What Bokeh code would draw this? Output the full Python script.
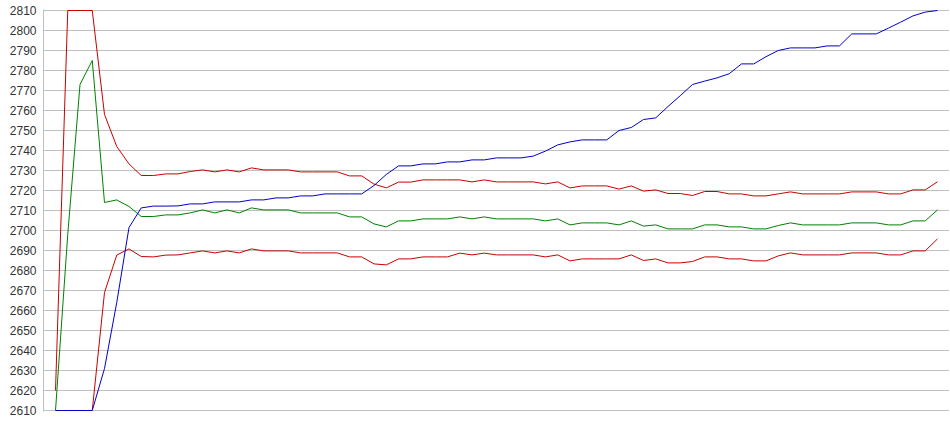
from bokeh.plotting import figure
from bokeh.models import Range1d, FixedTicker
from bokeh.embed import file_html
from bokeh.resources import INLINE

nan = float("nan")

# sample index (no x labels in the chart)
idx = list(range(73))

upper_band = [2620, 2810, 2810, 2810, 2758, 2742, 2733.3, 2727.5, 2727.5, 2728.3,
              2728.3, 2729.5, 2730.3, 2729.3, 2730.3, 2729.3, 2731.3, 2730.3, 2730.3, 2730.3,
              2729.3, 2729.3, 2729.3, 2729.3, 2727.3, 2727.3, 2723.2, 2721.3, 2724.2, 2724.2,
              2725.3, 2725.3, 2725.3, 2725.3, 2724.3, 2725.3, 2724.3, 2724.3, 2724.3, 2724.3,
              2723.3, 2724.3, 2721.3, 2722.3, 2722.3, 2722.3, 2720.7, 2722.3, 2719.7, 2720.3,
              2718.5, 2718.5, 2717.5, 2719.5, 2719.5, 2718.3, 2718.3, 2717.3, 2717.3, 2718.3,
              2719.3, 2718.3, 2718.3, 2718.3, 2718.3, 2719.3, 2719.3, 2719.3, 2718.3, 2718.3,
              2720.3, 2720.3, 2724.4]

middle_line = [2610, 2698, 2773, 2785, 2714, 2715.3, 2712, 2707, 2707, 2707.8,
               2707.8, 2708.8, 2710.3, 2708.8, 2710.3, 2708.8, 2711.3, 2710.3, 2710.3, 2710.3,
               2708.8, 2708.8, 2708.8, 2708.8, 2706.8, 2706.8, 2703.3, 2701.8, 2704.8, 2704.8,
               2705.8, 2705.8, 2705.8, 2706.8, 2705.8, 2706.8, 2705.8, 2705.8, 2705.8, 2705.8,
               2704.8, 2705.8, 2702.8, 2703.8, 2703.8, 2703.8, 2702.8, 2704.8, 2702.2, 2702.8,
               2700.8, 2700.8, 2700.8, 2702.8, 2702.8, 2701.8, 2701.8, 2700.8, 2700.8, 2702.5,
               2703.8, 2702.8, 2702.8, 2702.8, 2702.8, 2703.8, 2703.8, 2703.8, 2702.8, 2702.8,
               2704.8, 2704.8, 2710.3]

lower_band = [nan, nan, nan, 2610, 2669, 2687.7, 2690.8, 2687, 2686.8, 2687.7,
              2687.8, 2688.8, 2689.8, 2688.8, 2689.8, 2688.8, 2690.8, 2689.8, 2689.8, 2689.8,
              2688.8, 2688.8, 2688.8, 2688.8, 2686.8, 2686.8, 2683.3, 2682.8, 2685.8, 2685.8,
              2686.8, 2686.8, 2686.8, 2688.7, 2687.8, 2688.7, 2687.8, 2687.8, 2687.8, 2687.8,
              2686.8, 2687.8, 2684.8, 2685.8, 2685.8, 2685.8, 2685.8, 2687.8, 2685, 2685.8,
              2683.8, 2683.8, 2684.5, 2686.8, 2686.8, 2685.8, 2685.8, 2684.8, 2684.8, 2687.3,
              2688.8, 2687.8, 2687.8, 2687.8, 2687.8, 2688.8, 2688.8, 2688.8, 2687.8, 2687.8,
              2689.8, 2689.8, 2695.8]

price = [2610, 2610, 2610, 2610, 2631, 2664, 2701.5, 2711.3, 2712.2, 2712.2,
         2712.3, 2713.3, 2713.3, 2714.3, 2714.3, 2714.3, 2715.3, 2715.3, 2716.3, 2716.3,
         2717.3, 2717.3, 2718.3, 2718.3, 2718.3, 2718.3, 2722.5, 2728, 2732.3, 2732.3,
         2733.3, 2733.3, 2734.3, 2734.3, 2735.3, 2735.3, 2736.3, 2736.3, 2736.3, 2737.2,
         2739.7, 2742.8, 2744.3, 2745.3, 2745.3, 2745.3, 2750, 2751.5, 2755.5, 2756.3,
         2762, 2767.4, 2773, 2774.7, 2776.3, 2778.4, 2783.3, 2783.3, 2786.9, 2790,
         2791.3, 2791.3, 2791.3, 2792.3, 2792.3, 2798.3, 2798.3, 2798.3, 2801.2, 2804.2,
         2807.3, 2809.2, 2810]

y_ticks = list(range(2610, 2811, 10))
y_tick_labels = [str(t) for t in y_ticks]

p = figure(width=949, height=425, output_backend="svg", toolbar_location=None,
           x_range=Range1d(-0.98, 72.98), y_range=Range1d(2609.5, 2810.5),
           min_border_left=43, min_border_right=0, min_border_top=9, min_border_bottom=14)
p.outline_line_color = None
p.background_fill_color = "white"
p.border_fill_color = "white"
p.xaxis.visible = False
p.xgrid.visible = False

p.yaxis.ticker = FixedTicker(ticks=y_ticks)
p.ygrid.ticker = FixedTicker(ticks=y_ticks)
p.yaxis.major_label_overrides = {t: l for t, l in zip(y_ticks, y_tick_labels)}
p.ygrid.grid_line_color = "#c0c0c0"
p.ygrid.grid_line_width = 1
p.yaxis.axis_line_color = "#c0c0c0"
p.yaxis.major_tick_line_color = None
p.yaxis.minor_tick_line_color = None
p.yaxis.major_tick_in = 0
p.yaxis.major_tick_out = 0
p.yaxis.major_label_standoff = 7
p.yaxis.major_label_text_font = "Liberation Sans"
p.yaxis.major_label_text_font_size = "12px"
p.yaxis.major_label_text_color = "#333333"

p.line(idx, upper_band, line_color="#c80000", line_width=1)
p.line(idx, middle_line, line_color="#008000", line_width=1)
p.line(idx, lower_band, line_color="#c80000", line_width=1)
p.line(idx, price, line_color="#0000c8", line_width=1)

open("out.html", "w").write(file_html(p, INLINE))
